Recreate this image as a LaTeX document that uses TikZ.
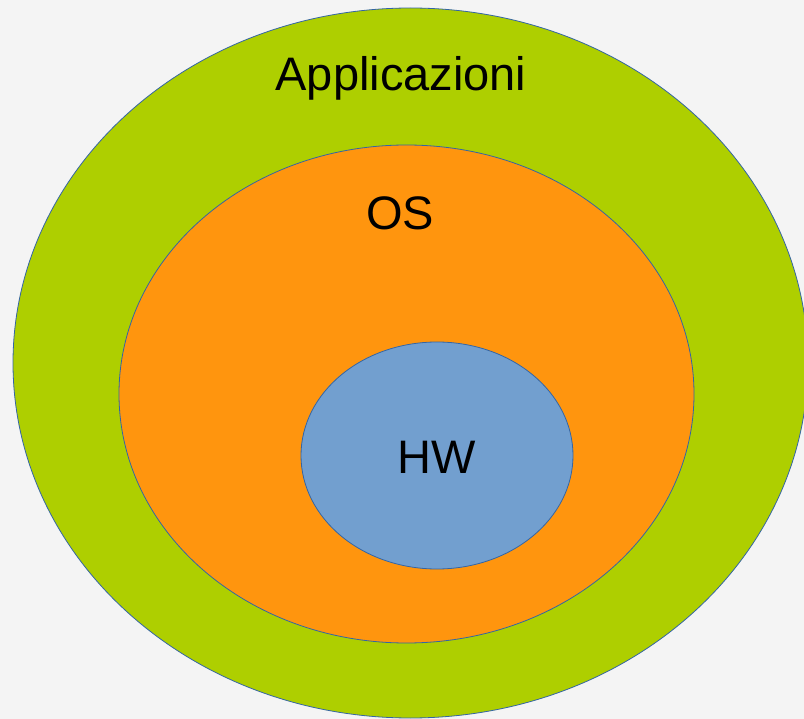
\documentclass[tikz,border=0pt]{standalone}
\usepackage{fontspec}
\setmainfont{Liberation Sans}
\usetikzlibrary{shapes.geometric}
\definecolor{bgc}{HTML}{F4F4F4}
\definecolor{appgreen}{HTML}{AECF00}
\definecolor{osorange}{HTML}{FF950E}
\definecolor{hwblue}{HTML}{729FCF}
\definecolor{edge}{HTML}{3465A4}
\tikzset{
  layer/.style={ellipse, draw=edge, line width=0.8pt, inner sep=0pt},
  lbl/.style={font=\fontsize{47}{50}\selectfont, text=black, inner sep=0pt}
}
\begin{document}
\begin{tikzpicture}[x=1pt,y=-1pt]
\fill[bgc] (0,0) rectangle (804,719);
\useasboundingbox (0,0) rectangle (804,719);
\node[layer, fill=appgreen, minimum width=795pt, minimum height=710pt] (app) at (410.5,363) {};
\node[layer, fill=osorange, minimum width=575pt, minimum height=498pt] (os) at (406.5,394) {};
\node[layer, fill=hwblue, minimum width=272pt, minimum height=227pt] (hw) at (437,455.5) {};
\node[lbl] (tapp) at (401,78) {Applicazioni};
\node[lbl] (tos) at (400,213) {OS};
\node[lbl] (thw) at (437,457) {HW};
\end{tikzpicture}
\end{document}
